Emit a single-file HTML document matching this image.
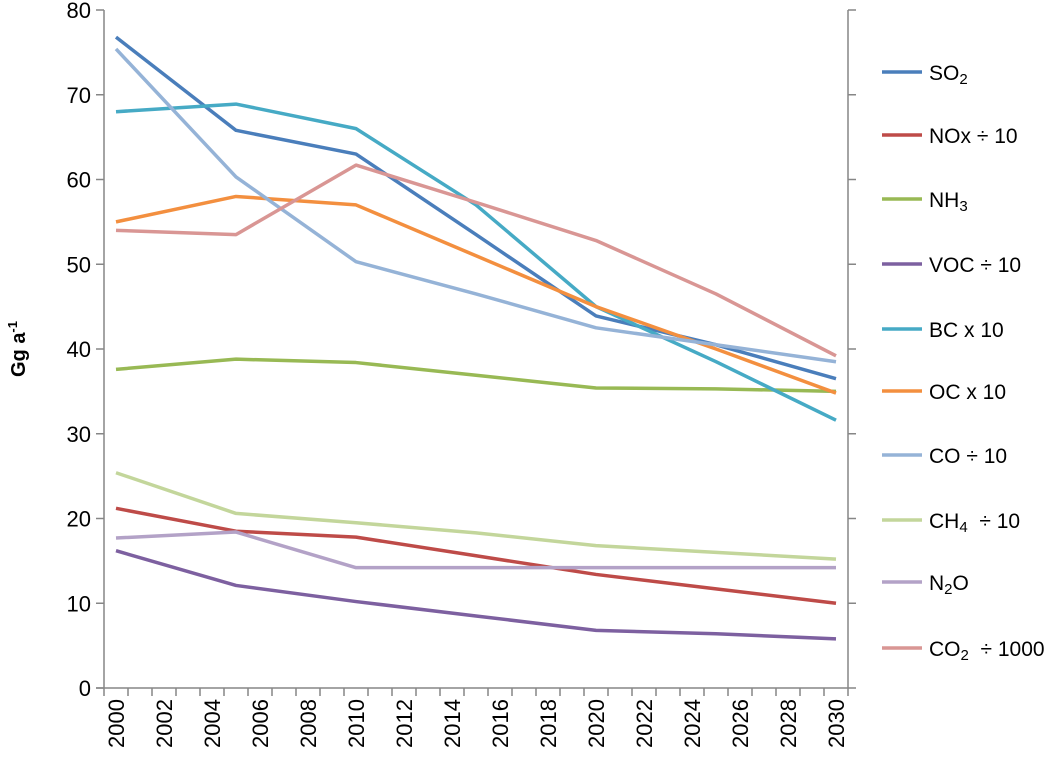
<!DOCTYPE html>
<html><head><meta charset="utf-8"><style>
body{margin:0;background:#fff;font-family:"Liberation Sans",Arial,sans-serif}
svg text{font-family:"Liberation Sans",Arial,sans-serif;fill:#000}
</style></head><body>
<svg id="c" width="1064" height="766"></svg>
<script>
const years=[2000,2005,2010,2015,2020,2025,2030];
const seriesNames=["SO2","NOx","NH3","VOC","BC","OC","CO","CH4","N2O","CO2"];
const so2=[76.8,65.8,63,53.5,43.9,40.5,36.5];
const nox=[21.2,18.5,17.8,15.6,13.4,11.7,10];
const nh3=[37.6,38.8,38.4,36.9,35.4,35.3,35.0];
const voc=[16.2,12.1,10.2,8.5,6.8,6.4,5.8];
const bc=[68,68.9,66,57,45,38.5,31.6];
const oc=[55,58,57,51,45,40,34.8];
const co=[75.4,60.3,50.3,46.5,42.5,40.5,38.5];
const ch4=[25.4,20.6,19.5,18.3,16.8,16.0,15.2];
const n2o=[17.7,18.4,14.2,14.2,14.2,14.2,14.2];
const co2=[54,53.5,61.7,57.3,52.8,46.5,39.2];
const yTicks=[0,10,20,30,40,50,60,70,80];
const xTickYears=[2000,2002,2004,2006,2008,2010,2012,2014,2016,2018,2020,2022,2024,2026,2028,2030];
const legendLabels=[["SO","2",""],["NOx ÷ 10","",""],["NH","3",""],["VOC ÷ 10","",""],["BC x 10","",""],["OC x 10","",""],["CO ÷ 10","",""],["CH","4","  ÷ 10"],["N","2","O"],["CO","2","  ÷ 1000"]];
const colors=["#4A7EBB","#BE4B48","#98B954","#7D60A0","#46AAC5","#F38F3F","#95B3D7","#C3D69B","#B3A2C7","#D99694"];
const all=[so2,nox,nh3,voc,bc,oc,co,ch4,n2o,co2];
const L=104,R=848,T=10,B=688;
const band=(R-L)/31;
const x=y=>L+band*(y-2000+0.5);
const yy=v=>B-(v/80)*(B-T);
const svg=document.getElementById('c');
const NS='http://www.w3.org/2000/svg';
function mk(t,a,p){const e=document.createElementNS(NS,t);for(const k in a)e.setAttribute(k,a[k]);(p||svg).appendChild(e);return e;}
let e=mk('line',{x1:L,y1:T,x2:L,y2:B,stroke:'#868686','stroke-width':1.5});

e=mk('line',{x1:R,y1:T,x2:R,y2:B,stroke:'#868686','stroke-width':1.5});

e=mk('line',{x1:L-8,y1:B,x2:R,y2:B,stroke:'#868686','stroke-width':1.5});

yTicks.forEach(v=>{
 mk('line',{x1:L-8,x2:L,y1:yy(v),y2:yy(v),stroke:'#868686','stroke-width':1.5});
 mk('line',{x1:R,x2:R+8,y1:yy(v),y2:yy(v),stroke:'#868686','stroke-width':1.5});
 const t=mk('text',{x:L-13,y:yy(v)+8,'text-anchor':'end','font-size':22});t.textContent=v;
 
});
for(let i=0;i<=31;i++){const xx=L+band*i;mk('line',{x1:xx,x2:xx,y1:B,y2:B+8,stroke:'#868686','stroke-width':1.5});}
xTickYears.forEach(yr=>{
 const t=mk('text',{transform:`translate(${x(yr)+8},699) rotate(-90)`,'text-anchor':'end','font-size':22});t.textContent=yr;
 
});
const at=mk('text',{transform:'translate(25,349) rotate(-90)','text-anchor':'middle','font-size':20,'font-weight':'bold'});
at.innerHTML='Gg a<tspan font-size="13" dy="-8">-1</tspan>';

all.forEach((s,i)=>{
 const p=mk('polyline',{points:s.map((v,j)=>x(years[j])+','+yy(v)).join(' '),fill:'none',stroke:colors[i],'stroke-width':3.5,'stroke-linejoin':'round'});
 
});
const ly=[72,135,199,264,329,391,455,520,582,648];
legendLabels.forEach((l,i)=>{
 const g=mk('g',{});
 
 mk('line',{x1:882,x2:922,y1:ly[i],y2:ly[i],stroke:colors[i],'stroke-width':3.5},g);
 const t=mk('text',{x:929,y:ly[i]+8,'font-size':21,'xml:space':'preserve'},g);
 t.innerHTML=l[0]+(l[1]?'<tspan font-size="15" dy="4">'+l[1]+'</tspan><tspan dy="-4">'+l[2].replace(/ /g,'\u00a0')+'</tspan>':'');
});
</script>
</body></html>
